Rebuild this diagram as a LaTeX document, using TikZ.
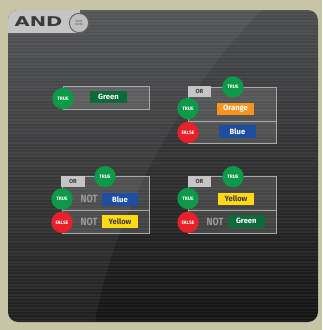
\documentclass[tikz,border=0pt]{standalone}
\usepackage{fontspec}
\setmainfont{Fira Sans}
\newfontfamily\titolofont{DejaVu Sans}
\definecolor{fondo}{HTML}{C8C5A6}
\definecolor{pannelloalto}{HTML}{4B4C4E}
\definecolor{pannellomezzo}{HTML}{333436}
\definecolor{pannellobasso}{HTML}{141414}
\definecolor{linguetta}{HTML}{C5C5C5}
\definecolor{scuro}{HTML}{3A3A3A}
\definecolor{verde}{HTML}{0C9A48}
\definecolor{rosso}{HTML}{E8202A}
\definecolor{verdescuro}{HTML}{0D6B3B}
\definecolor{arancio}{HTML}{F7941D}
\definecolor{blu}{HTML}{1E4EA1}
\definecolor{giallo}{HTML}{FFD912}
\definecolor{bordo}{HTML}{A8A8A8}
\definecolor{grigio}{HTML}{9B9B9B}
\begin{document}
\begin{tikzpicture}[x=0.03cm, y=-0.03cm, line width=0.6pt,
		esito/.style={circle, inner sep=0pt, minimum size=0.64cm, text=white, font=\fontsize{4.2}{5}\selectfont\bfseries},
		vero/.style={esito, fill=verde},
		falso/.style={esito, fill=rosso},
		targa/.style={inner sep=0pt, minimum width=1.1cm, minimum height=0.38cm, text=white, font=\fontsize{6.5}{7}\selectfont\bfseries},
		cornice/.style={draw=bordo, line width=0.8pt, fill=white, fill opacity=0.13},
		etichetta/.style={fill=linguetta, inner sep=0pt, minimum width=0.69cm, minimum height=0.32cm, text=scuro, font=\fontsize{5}{5}\selectfont\bfseries},
		nega/.style={text=grigio, font=\fontsize{9}{9}\selectfont\bfseries}]
	\useasboundingbox (0,0) rectangle (322,330);
	\fill[fondo] (0,0) rectangle (322,330);
	
	%% pannello scuro a righe
	\def\pannello{(8,10) rectangle (318,322)}
	\shade[rounded corners=0.3cm, top color=pannelloalto, middle color=pannellomezzo, bottom color=pannellobasso] \pannello;
	\begin{scope}
		\clip[rounded corners=0.3cm] \pannello;
		\foreach \y in {11,14.3,...,322}
			\draw[white, opacity=0.05, line width=1.3pt] (8,\y) -- (318,\y);
		%% riflesso diagonale
		\fill[white, opacity=0.05] (8,10) -- (262,10) .. controls (200,70) and (115,200) .. (95,322) -- (8,322) -- cycle;
		%% linguetta AND
		\fill[linguetta] (8,10) rectangle (80,33);
	\end{scope}
	\node[text=scuro, inner sep=0pt] (titolo) at (38.5,22) {\scalebox{1.45}[1]{\titolofont\fontsize{11.5}{12}\selectfont\bfseries AND}};
	\node[circle, draw=scuro!80, fill=linguetta!110, line width=0.8pt, minimum size=0.58cm, inner sep=0pt, align=center, text=grigio!80!black, font=\fontsize{2.6}{2.8}\selectfont\bfseries] (tabella) at (79,23) {TRUE\\FALSE};
	
	%% gruppo 1
	\draw[cornice] (63,86) rectangle (149,109);
	\node[targa, fill=verdescuro] (g1verde) at (108.5,97) {Green};
	\node[vero] (g1vero) at (63,98.5) {TRUE};
	
	%% gruppo 2
	\draw[cornice] (188,87) rectangle (276,143);
	\draw[bordo, line width=0.8pt] (188,121) -- (276,121);
	\node[etichetta] (g2or) at (199.5,91.5) {OR};
	\node[targa, fill=arancio] (g2arancio) at (235.5,109) {Orange};
	\node[targa, fill=blu] (g2blu) at (237.5,131.5) {Blue};
	\node[vero] (g2alto) at (233,87) {TRUE};
	\node[vero] (g2vero) at (188,108.5) {TRUE};
	\node[falso] (g2falso) at (188,132.5) {FALSE};
	
	%% gruppo 3
	\draw[cornice] (62,176) rectangle (149,233);
	\draw[bordo, line width=0.8pt] (62,210) -- (149,210);
	\node[etichetta] (g3or) at (73,181.5) {OR};
	\node[nega] (g3not1) at (89,199) {\scalebox{0.85}[1]{NOT}};
	\node[targa, fill=blu] (g3blu) at (120,199.2) {Blue};
	\node[nega] (g3not2) at (89,222) {\scalebox{0.85}[1]{NOT}};
	\node[targa, fill=giallo, text=scuro] (g3giallo) at (120,221.7) {Yellow};
	\node[vero] (g3alto) at (105,176.7) {TRUE};
	\node[vero] (g3vero) at (62,199) {TRUE};
	\node[falso] (g3falso) at (62,222.3) {FALSE};
	
	%% gruppo 4
	\draw[cornice] (188,176) rectangle (276,233);
	\draw[bordo, line width=0.8pt] (188,210) -- (276,210);
	\node[etichetta] (g4or) at (199.5,181.5) {OR};
	\node[targa, fill=giallo, text=scuro] (g4giallo) at (236,199) {Yellow};
	\node[nega] (g4not) at (215,222) {\scalebox{0.85}[1]{NOT}};
	\node[targa, fill=verdescuro] (g4verde) at (246.3,221.3) {Green};
	\node[vero] (g4alto) at (233,176.7) {TRUE};
	\node[vero] (g4vero) at (188,198.5) {TRUE};
	\node[falso] (g4falso) at (188,222.3) {FALSE};
\end{tikzpicture}
\end{document}
